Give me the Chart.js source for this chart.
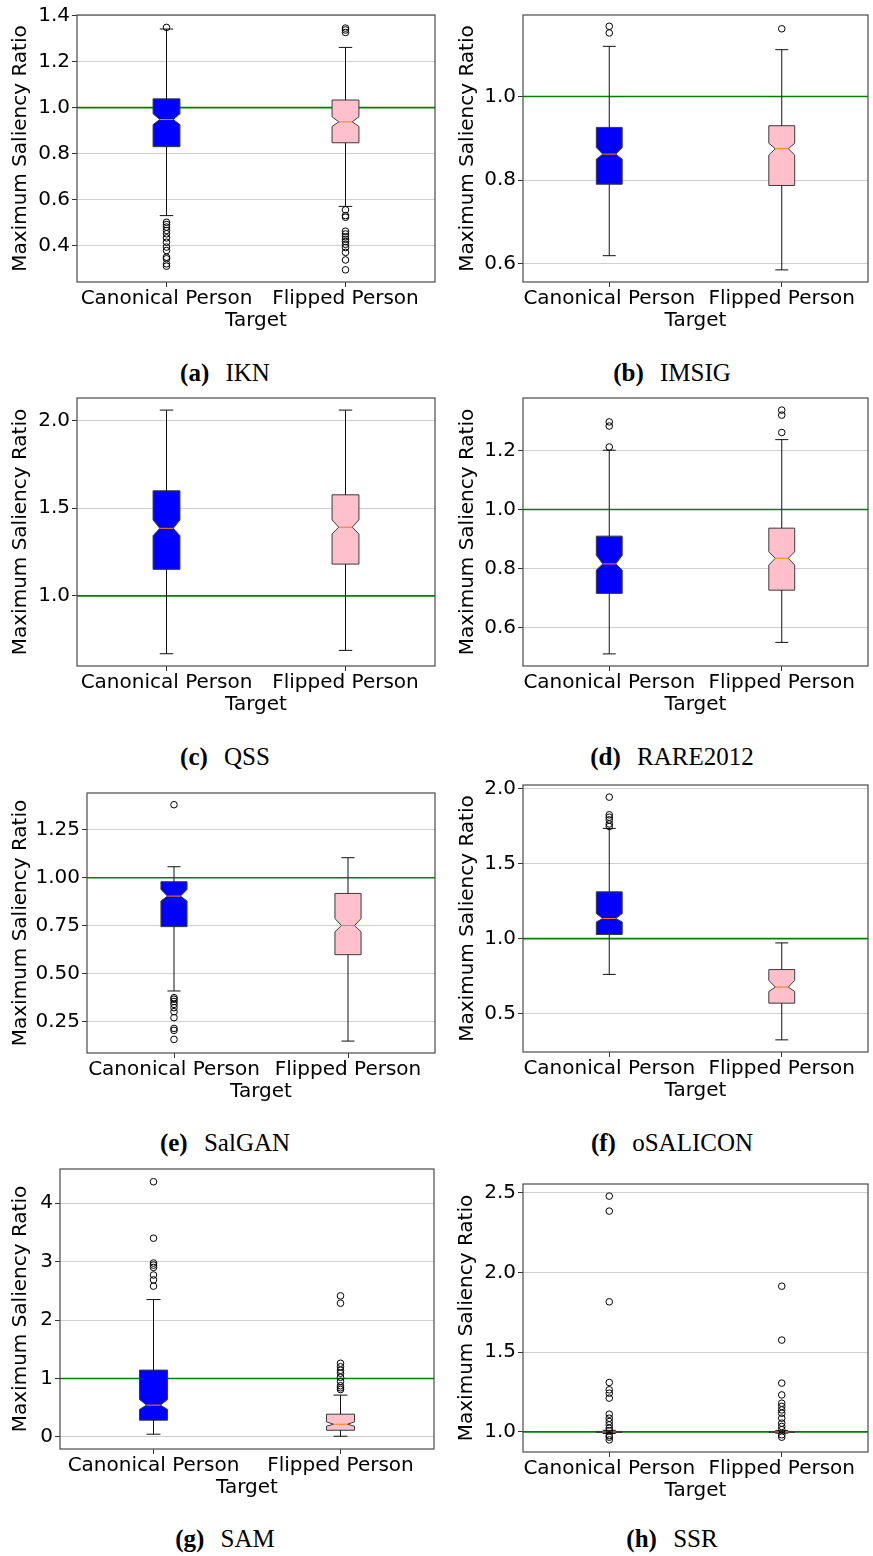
<!DOCTYPE html>
<html>
<head>
<meta charset="utf-8">
<script src="https://cdn.jsdelivr.net/npm/chart.js@4.4.1/dist/chart.umd.min.js"></script>
<style>
  html, body { margin: 0; padding: 0; background: #fff; }
  body { width: 873px; height: 1556px; position: relative; overflow: hidden; }
  .panel { position: absolute; }
  .panel canvas { display: block; }
  .cap {
    position: absolute; white-space: nowrap; transform: translateX(-50%);
    font-family: "Liberation Serif", "Times New Roman", serif; font-size: 25px;
    line-height: 25px; color: #000;
  }
  .cap b { margin-right: 10px; }
</style>
</head>
<body>
<script>
// ---- data ---------------------------------------------------------------
const categories = ['Canonical Person', 'Flipped Person'];
const boxColors = ['#0000ff', '#ffc0cb'];

// each summary: [whisker low, Q1, notch low, median, notch high, Q3, whisker high]
const iknStats = [[0.530, 0.830, 0.926, 0.948, 0.973, 1.038, 1.342],
                  [0.570, 0.847, 0.918, 0.938, 0.960, 1.033, 1.262]];
const iknOutliers = [[1.349, 0.501, 0.491, 0.480, 0.465, 0.451, 0.433, 0.414, 0.393, 0.378, 0.349, 0.342, 0.320, 0.310],
                     [1.346, 1.338, 1.327, 0.555, 0.530, 0.523, 0.462, 0.450, 0.438, 0.427, 0.417, 0.405, 0.391, 0.370, 0.337, 0.294]];
const iknTicks = ['0.4', '0.6', '0.8', '1.0', '1.2', '1.4'];
const iknRange = [0.241, 1.403];

const imsigStats = [[0.619, 0.790, 0.850, 0.862, 0.878, 0.926, 1.120],
                    [0.585, 0.787, 0.860, 0.875, 0.888, 0.930, 1.112]];
const imsigOutliers = [[1.168, 1.152], [1.162]];
const imsigTicks = ['0.6', '0.8', '1.0'];
const imsigRange = [0.556, 1.195];

const qssStats = [[0.670, 1.151, 1.343, 1.385, 1.433, 1.599, 2.059],
                  [0.689, 1.181, 1.353, 1.391, 1.433, 1.576, 2.059]];
const qssOutliers = [[], []];
const qssTicks = ['1.0', '1.5', '2.0'];
const qssRange = [0.600, 2.128];

const rareStats = [[0.511, 0.716, 0.795, 0.816, 0.845, 0.910, 1.201],
                   [0.550, 0.727, 0.812, 0.835, 0.857, 0.937, 1.237]];
const rareOutliers = [[1.297, 1.283, 1.212], [1.337, 1.320, 1.261]];
const rareTicks = ['0.6', '0.8', '1.0', '1.2'];
const rareRange = [0.470, 1.378];

const salganStats = [[0.410, 0.745, 0.878, 0.904, 0.939, 0.979, 1.057],
                     [0.149, 0.599, 0.718, 0.751, 0.787, 0.918, 1.104]];
const salganOutliers = [[1.380, 0.375, 0.367, 0.355, 0.340, 0.323, 0.302, 0.271, 0.215, 0.205, 0.158], []];
const salganTicks = ['0.25', '0.50', '0.75', '1.00', '1.25'];
const salganRange = [0.087, 1.441];

const osaliconStats = [[0.761, 1.027, 1.111, 1.134, 1.167, 1.312, 1.735],
                       [0.324, 0.569, 0.647, 0.676, 0.721, 0.793, 0.971]];
const osaliconOutliers = [[1.944, 1.826, 1.810, 1.792, 1.765, 1.748], []];
const osaliconTicks = ['0.5', '1.0', '1.5', '2.0'];
const osaliconRange = [0.243, 2.025];

const samStats = [[0.046, 0.286, 0.470, 0.544, 0.640, 1.143, 2.350],
                  [0.011, 0.114, 0.183, 0.217, 0.257, 0.389, 0.715]];
const samOutliers = [[4.366, 3.400, 2.975, 2.940, 2.900, 2.770, 2.686, 2.580],
                     [2.413, 2.288, 1.260, 1.200, 1.140, 1.090, 1.020, 0.950, 0.875, 0.840, 0.810]];
const samTicks = ['0', '1', '2', '3', '4'];
const samRange = [-0.207, 4.584];

const ssrStats = [[0.990, 0.997, 0.998, 1.000, 1.002, 1.003, 1.010],
                  [0.992, 0.998, 0.999, 1.000, 1.001, 1.002, 1.008]];
const ssrOutliers = [[2.479, 2.385, 1.816, 1.310, 1.264, 1.243, 1.212, 1.111, 1.086, 1.065, 1.044, 1.023, 1.008, 0.977, 0.967, 0.950],
                     [1.914, 1.576, 1.306, 1.232, 1.180, 1.160, 1.138, 1.117, 1.086, 1.055, 1.034, 1.014, 0.982, 0.967]];
const ssrTicks = ['1.0', '1.5', '2.0', '2.5'];
const ssrRange = [0.874, 2.555];

const modelNames = ['IKN', 'IMSIG', 'QSS', 'RARE2012', 'SalGAN', 'oSALICON', 'SAM', 'SSR'];
const panelTags = ['(a)', '(b)', '(c)', '(d)', '(e)', '(f)', '(g)', '(h)'];
const referenceLevel = 1.0;

// ---- page geometry (plot-area edges in page pixels) -----------------------
const frames = [
  { L: 77,  T: 15,   R: 435, B: 282,  col: 0, titleX: 21 },
  { L: 523, T: 15,   R: 872, B: 282,  col: 1, titleX: 468 },
  { L: 77,  T: 398,  R: 435, B: 666,  col: 0, titleX: 21 },
  { L: 523, T: 398,  R: 872, B: 666,  col: 1, titleX: 468 },
  { L: 87,  T: 793,  R: 435, B: 1053, col: 0, titleX: 21 },
  { L: 523, T: 785,  R: 872, B: 1052, col: 1, titleX: 468 },
  { L: 60,  T: 1169, R: 434, B: 1449, col: 0, titleX: 21 },
  { L: 523, T: 1184, R: 872, B: 1452, col: 1, titleX: 467 }
];
const captionBaselines = [381, 381, 765, 765, 1151, 1151, 1547, 1547];
const captionCenters = [225, 672];
const columns = [{ x: 0, w: 440 }, { x: 440, w: 433 }];

const panels = [
  { stats: iknStats, outliers: iknOutliers, ticks: iknTicks, range: iknRange },
  { stats: imsigStats, outliers: imsigOutliers, ticks: imsigTicks, range: imsigRange },
  { stats: qssStats, outliers: qssOutliers, ticks: qssTicks, range: qssRange },
  { stats: rareStats, outliers: rareOutliers, ticks: rareTicks, range: rareRange },
  { stats: salganStats, outliers: salganOutliers, ticks: salganTicks, range: salganRange },
  { stats: osaliconStats, outliers: osaliconOutliers, ticks: osaliconTicks, range: osaliconRange },
  { stats: samStats, outliers: samOutliers, ticks: samTicks, range: samRange },
  { stats: ssrStats, outliers: ssrOutliers, ticks: ssrTicks, range: ssrRange }
];

// ---- plugins ---------------------------------------------------------------
const BOX_WIDTH = 0.15;

// notched boxes, whiskers and caps, painted right after the reference line
const notchedBoxes = {
  id: 'notchedBoxes',
  afterDatasetDraw(chart, args) {
    if (args.meta.type !== 'line') return;
    const opts = chart.options.plugins.notchedBoxes;
    const ctx = chart.ctx;
    const xs = chart.scales.x, ys = chart.scales.y;
    const Y = v => ys.getPixelForValue(v);
    const seg = (x1, y1, x2, y2) => { ctx.beginPath(); ctx.moveTo(x1, y1); ctx.lineTo(x2, y2); ctx.stroke(); };
    ctx.save();
    opts.stats.forEach((s, i) => {
      const [lo, q1, cilo, med, cihi, q3, hi] = s;
      const pos = i + 1;
      const xc = xs.getPixelForValue(pos);
      const xl = xs.getPixelForValue(pos - BOX_WIDTH / 2);
      const xr = xs.getPixelForValue(pos + BOX_WIDTH / 2);
      const nl = xs.getPixelForValue(pos - BOX_WIDTH / 4);
      const nr = xs.getPixelForValue(pos + BOX_WIDTH / 4);
      // box with notch
      ctx.beginPath();
      ctx.moveTo(xl, Y(q1));
      ctx.lineTo(xr, Y(q1));
      ctx.lineTo(xr, Y(cilo));
      ctx.lineTo(nr, Y(med));
      ctx.lineTo(xr, Y(cihi));
      ctx.lineTo(xr, Y(q3));
      ctx.lineTo(xl, Y(q3));
      ctx.lineTo(xl, Y(cihi));
      ctx.lineTo(nl, Y(med));
      ctx.lineTo(xl, Y(cilo));
      ctx.closePath();
      ctx.fillStyle = opts.colors[i];
      ctx.fill();
      ctx.lineWidth = 1;
      ctx.strokeStyle = '#3a3a3a';
      ctx.stroke();
      // whiskers and caps
      ctx.strokeStyle = '#111';
      seg(xc, Y(q3), xc, Y(hi));
      seg(xc, Y(q1), xc, Y(lo));
      seg(nl, Y(hi), nr, Y(hi));
      seg(nl, Y(lo), nr, Y(lo));
      // median
      ctx.strokeStyle = '#ff7f0e';
      seg(nl, Y(med), nr, Y(med));
    });
    ctx.restore();
  }
};

// axes frame around the plot area
const axesFrame = {
  id: 'axesFrame',
  afterDraw(chart) {
    const a = chart.chartArea;
    const ctx = chart.ctx;
    ctx.save();
    ctx.strokeStyle = '#4a4a4a';
    ctx.lineWidth = 1.2;
    ctx.strokeRect(a.left, a.top, a.right - a.left, a.bottom - a.top);
    ctx.restore();
  }
};

Chart.defaults.font.family = '"DejaVu Sans", sans-serif';
Chart.defaults.font.size = 20;
Chart.defaults.color = '#000';

const PAD_TOP = 14, X_BAND = 62;

panels.forEach((p, k) => {
  const f = frames[k];
  const col = columns[f.col];
  const top = f.T - PAD_TOP;
  const height = f.B + X_BAND - top;

  const wrap = document.createElement('div');
  wrap.className = 'panel';
  wrap.style.left = col.x + 'px';
  wrap.style.top = top + 'px';
  wrap.style.width = col.w + 'px';
  wrap.style.height = height + 'px';
  const cv = document.createElement('canvas');
  cv.width = col.w; cv.height = height;
  cv.style.width = col.w + 'px'; cv.style.height = height + 'px';
  wrap.appendChild(cv);
  document.body.appendChild(wrap);

  const tickValues = p.ticks.map(Number);
  const outlierPoints = [];
  p.outliers.forEach((list, i) => list.forEach(v => outlierPoints.push({ x: i + 1, y: v })));

  new Chart(cv, {
    type: 'scatter',
    data: {
      datasets: [
        {
          type: 'line',
          data: [{ x: 0.5, y: referenceLevel }, { x: 2.5, y: referenceLevel }],
          borderColor: '#008000', borderWidth: 1.6, pointRadius: 0, order: 2
        },
        {
          type: 'scatter',
          data: outlierPoints,
          pointStyle: 'circle', pointRadius: 3.3, borderWidth: 1,
          borderColor: '#000', backgroundColor: 'rgba(0,0,0,0)', order: 1
        }
      ]
    },
    options: {
      responsive: false, animation: false, events: [],
      layout: { padding: { top: PAD_TOP, left: 0, bottom: 0, right: col.x + col.w - f.R } },
      plugins: {
        legend: { display: false }, tooltip: { enabled: false },
        notchedBoxes: { stats: p.stats, colors: boxColors }
      },
      scales: {
        x: {
          type: 'linear', min: 0.5, max: 2.5,
          afterBuildTicks: s => { s.ticks = [{ value: 1 }, { value: 2 }]; },
          afterFit: s => { s.height = X_BAND; },
          ticks: { callback: v => categories[Math.round(v) - 1], maxRotation: 0, autoSkip: false, padding: 0, color: '#000' },
          grid: { drawOnChartArea: false, drawTicks: true, tickLength: 5, tickColor: '#333' },
          border: { display: false },
          title: { display: true, text: 'Target', color: '#000', padding: { top: 0, bottom: 11 } }
        },
        y: {
          type: 'linear', min: p.range[0], max: p.range[1],
          afterBuildTicks: s => { s.ticks = tickValues.map(v => ({ value: v })); },
          afterFit: s => { s.width = f.L - col.x; },
          ticks: { callback: (v, i) => p.ticks[i], autoSkip: false, padding: 2, color: '#000' },
          grid: { color: '#cfcfcf', lineWidth: 1, drawTicks: true, tickLength: 5, tickColor: '#333' },
          border: { display: false },
          title: { display: true, text: 'Maximum Saliency Ratio', color: '#000',
                   padding: { top: f.titleX - col.x - 12, bottom: 0 } }
        }
      }
    },
    plugins: [notchedBoxes, axesFrame]
  });

  const cap = document.createElement('div');
  cap.className = 'cap';
  cap.style.left = captionCenters[f.col] + 'px';
  cap.style.top = (captionBaselines[k] - 21) + 'px';
  const tag = document.createElement('b');
  tag.textContent = panelTags[k];
  cap.appendChild(tag);
  cap.appendChild(document.createTextNode(' ' + modelNames[k]));
  document.body.appendChild(cap);
});
</script>
</body>
</html>
